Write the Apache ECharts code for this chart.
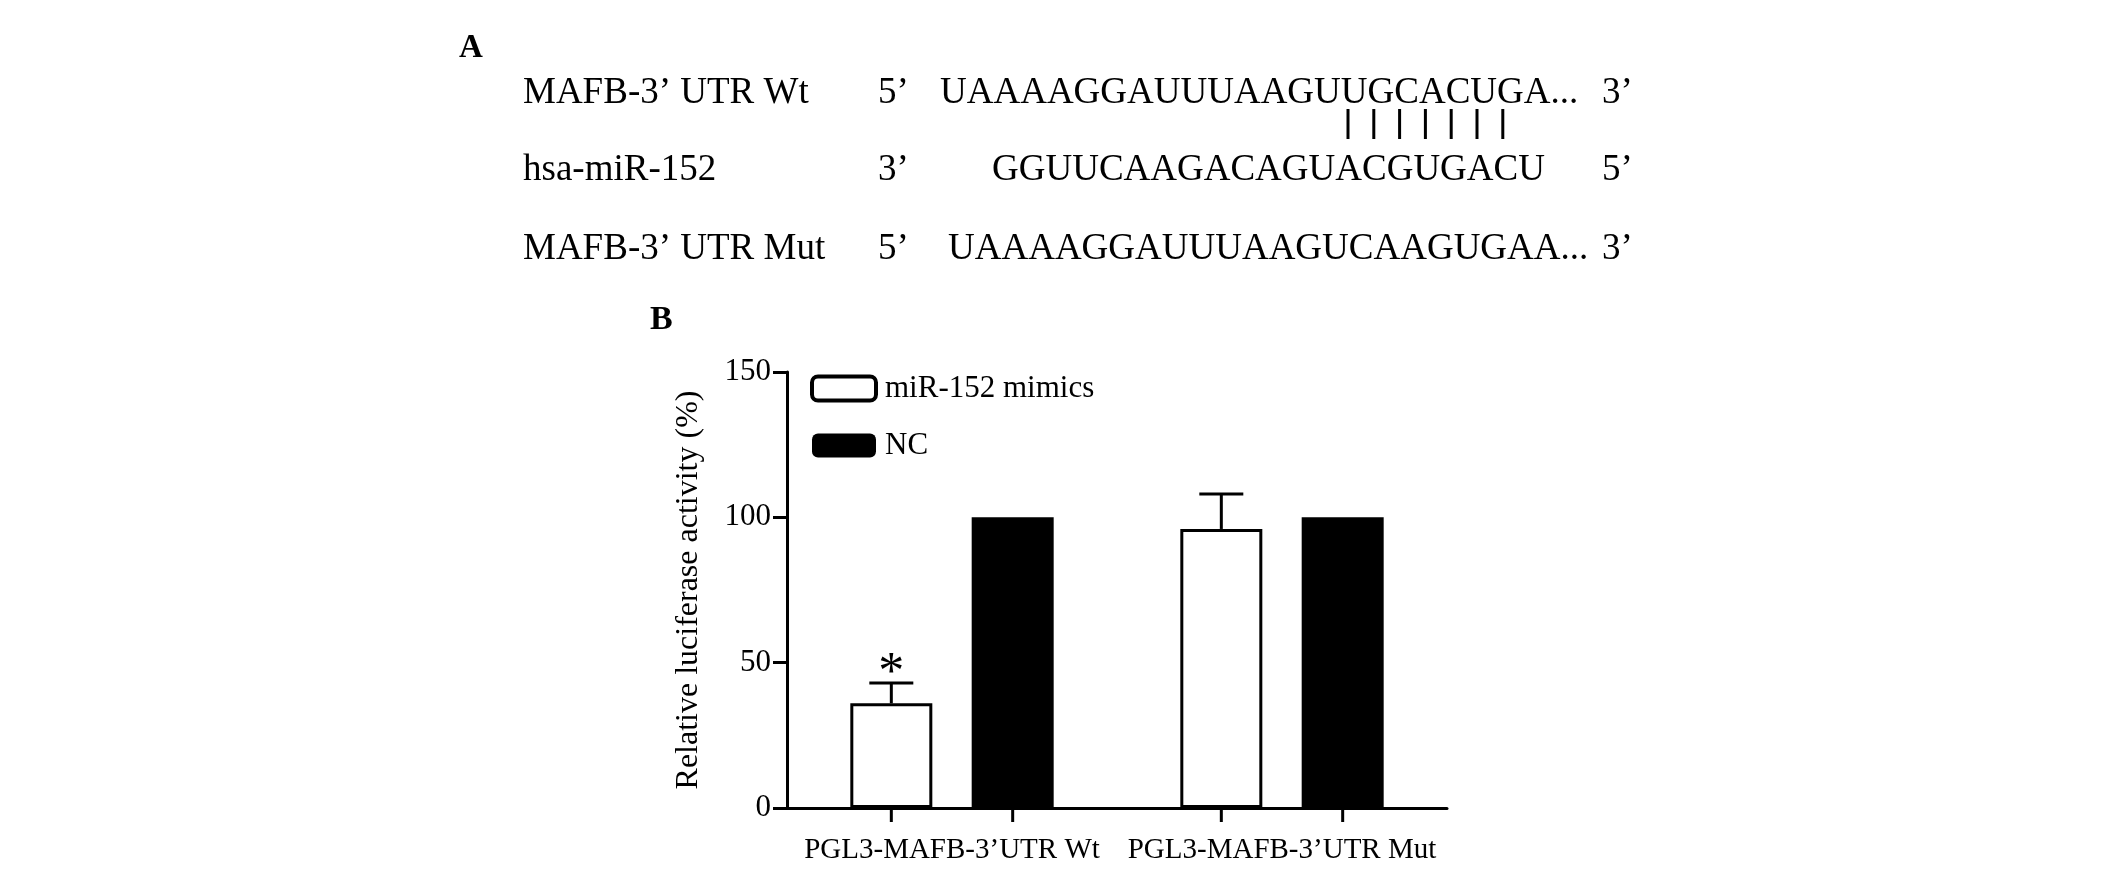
<!DOCTYPE html>
<html>
<head>
<meta charset="utf-8">
<title>MAFB 3' UTR luciferase</title>
<script src="https://cdn.jsdelivr.net/npm/echarts@6/dist/echarts.min.js"></script>
<style>
html, body { margin: 0; padding: 0; background: #fff; }
#chart { width: 2126px; height: 871px; }
</style>
</head>
<body>
<div id="chart"></div>
<script>
// 柱状图数据
const categories = ['PGL3-MAFB-3’UTR Wt', 'PGL3-MAFB-3’UTR Mut']
const seriesNames = ['miR-152 mimics', 'NC']
const mimicsValues = [36, 96]
const mimicsSem = [7, 12]
const ncValues = [100, 100]
const significance = ['*', '']
const yTicks = [0, 50, 100, 150]

// A 部分序列
const seqLabels = ['MAFB-3’ UTR Wt', 'hsa-miR-152', 'MAFB-3’ UTR Mut']
const seqLeftEnds = ['5’', '3’', '5’']
const seqRightEnds = ['3’', '5’', '3’']
const sequences = ['UAAAAGGAUUUAAGUUGCACUGA...', 'GGUUCAAGACAGUACGUGACU', 'UAAAAGGAUUUAAGUCAAGUGAA...']
const pairCount = 7

const FONT = "'Liberation Serif', 'Times New Roman', serif"
const barWidth = 82
const barGapRatio = 0.48
const barOffset = barWidth * (1 + barGapRatio) / 2
const capHalf = 22

const chart = echarts.init(document.getElementById('chart'))

// 序列文字
const rowY = [93, 170, 249]
const seqX = [940, 992, 948]
const textEl = (text, x, y, size, weight) => ({
  type: 'text',
  x: x,
  y: y,
  style: {
    text: text,
    fontSize: size,
    fontFamily: FONT,
    fontWeight: weight || 'normal',
    fill: '#000',
    align: 'left',
    verticalAlign: 'middle'
  }
})

const graphics = [textEl('A', 459, 48, 33, 'bold'), textEl('B', 650, 320, 34, 'bold')]
seqLabels.forEach((label, i) => {
  graphics.push(textEl(label, 523, rowY[i], 37))
  graphics.push(textEl(seqLeftEnds[i], 878, rowY[i], 37))
  graphics.push(textEl(sequences[i], seqX[i], rowY[i], 37))
  graphics.push(textEl(seqRightEnds[i], 1602, rowY[i], 37))
})
for (let k = 0; k < pairCount; k++) {
  const x = 1348 + k * 25.8
  graphics.push({
    type: 'line',
    shape: { x1: x, y1: 109, x2: x, y2: 139 },
    style: { stroke: '#000', lineWidth: 3 }
  })
}

// 误差线 + 显著性标记
const renderError = (params, api) => {
  const i = api.value(0)
  const base = api.coord([i, api.value(1)])
  const top = api.coord([i, api.value(1) + api.value(2)])
  const x = base[0] - barOffset
  const line = { stroke: '#000', lineWidth: 3 }
  const children = [
    { type: 'line', shape: { x1: x, y1: base[1], x2: x, y2: top[1] }, style: line },
    { type: 'line', shape: { x1: x - capHalf, y1: top[1], x2: x + capHalf, y2: top[1] }, style: line }
  ]
  const mark = significance[i]
  if (mark) {
    children.push({
      type: 'text',
      x: x,
      y: top[1] - 9,
      style: { text: mark, fontSize: 52, fontFamily: FONT, fill: '#000', align: 'center', verticalAlign: 'middle' }
    })
  }
  return { type: 'group', children: children }
}

// 每根柱子下方的刻度
const renderTicks = (params, api) => {
  const p = api.coord([api.value(0), 0])
  const line = { stroke: '#000', lineWidth: 3 }
  return {
    type: 'group',
    children: [-barOffset, barOffset].map(dx => ({
      type: 'line',
      shape: { x1: p[0] + dx, y1: p[1], x2: p[0] + dx, y2: p[1] + 14 },
      style: line
    }))
  }
}

const option = {
  backgroundColor: '#fff',
  animation: false,
  textStyle: { fontFamily: FONT, color: '#000' },
  grid: { left: 787, right: 679, top: 372, bottom: 63 },
  legend: {
    orient: 'vertical',
    left: 810,
    top: 373,
    padding: 0,
    itemGap: 26,
    itemWidth: 64,
    itemHeight: 24,
    icon: 'roundRect',
    textStyle: { fontSize: 31, fontFamily: FONT, color: '#000', lineHeight: 24, padding: [0, 0, 0, 4] },
    data: [
      { name: seriesNames[0], itemStyle: { color: '#fff', borderColor: '#000', borderWidth: 4 } },
      { name: seriesNames[1], itemStyle: { color: '#000' } }
    ]
  },
  xAxis: {
    type: 'category',
    data: categories,
    axisLine: { lineStyle: { color: '#000', width: 3 } },
    axisTick: { show: false },
    axisLabel: { color: '#000', fontSize: 29, fontFamily: FONT, margin: 28, interval: 0 }
  },
  yAxis: {
    type: 'value',
    min: yTicks[0],
    max: yTicks[yTicks.length - 1],
    interval: yTicks[1] - yTicks[0],
    name: 'Relative luciferase activity (%)',
    nameLocation: 'middle',
    nameRotate: 90,
    nameGap: 82,
    nameTextStyle: { fontSize: 32, fontFamily: FONT, color: '#000' },
    axisLine: { show: true, lineStyle: { color: '#000', width: 3 } },
    axisTick: { show: true, length: 14, lineStyle: { color: '#000', width: 3 } },
    splitLine: { show: false },
    axisLabel: { color: '#000', fontSize: 31, fontFamily: FONT, margin: 16 }
  },
  series: [
    {
      name: seriesNames[0],
      type: 'bar',
      data: mimicsValues,
      barWidth: barWidth,
      barGap: (barGapRatio * 100) + '%',
      itemStyle: { color: '#fff', borderColor: '#000', borderWidth: 3 }
    },
    {
      name: seriesNames[1],
      type: 'bar',
      data: ncValues,
      barWidth: barWidth,
      itemStyle: { color: '#000' }
    },
    {
      name: 'sem',
      type: 'custom',
      renderItem: renderError,
      encode: { x: 0, y: 1 },
      data: mimicsValues.map((v, i) => [i, v, mimicsSem[i]]),
      z: 5,
      silent: true
    },
    {
      name: 'ticks',
      type: 'custom',
      renderItem: renderTicks,
      encode: { x: 0, y: 1 },
      data: categories.map((c, i) => [i, 0]),
      z: 5,
      silent: true
    }
  ],
  graphic: graphics
}

chart.setOption(option)
</script>
</body>
</html>
